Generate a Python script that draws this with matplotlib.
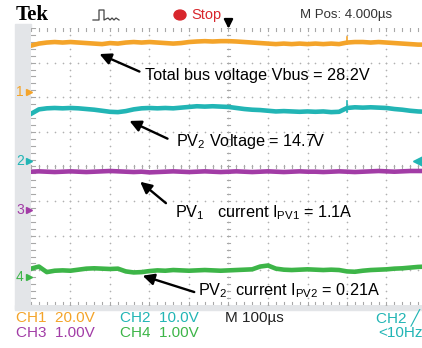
import matplotlib
matplotlib.use("Agg")
import matplotlib.pyplot as plt
from matplotlib.patches import Rectangle, Circle
from matplotlib.lines import Line2D
import numpy as np

plt.rcParams['font.family'] = ['Liberation Sans', 'DejaVu Sans']
plt.rcParams['mathtext.fontset'] = 'custom'
plt.rcParams['mathtext.rm'] = 'Liberation Sans'
plt.rcParams['mathtext.it'] = 'Liberation Sans:italic'

# time samples (us), 100 us/div
t = np.arange(0, 1001, 20)

# CH1 total bus voltage (V), 20 V/div
vbus = [26.6, 27.8, 28.4, 28.7, 28.4, 28.7, 28.4, 28.1, 27.8, 27.5,
        28.1, 27.8, 28.4, 28.7, 28.4, 28.7, 28.4, 28.1, 27.8, 28.1,
        28.7, 29.0, 29.2, 29.0, 29.2, 29.2, 29.0, 28.7, 28.4, 28.1,
        27.8, 27.5, 27.8, 27.5, 27.8, 27.5, 27.8, 27.5, 27.8, 27.5,
        28.4, 28.7, 28.7, 28.4, 28.7, 28.4, 28.1, 27.8, 27.5, 27.2, 27.2]
# CH2 PV2 voltage (V), 10 V/div
vpv2 = [13.6, 14.9, 15.2, 15.3, 15.2, 15.3, 15.2, 15.0, 14.8, 14.5,
        14.2, 14.1, 14.4, 14.9, 15.2, 15.3, 15.2, 15.3, 15.2, 15.4,
        15.6, 15.8, 15.7, 15.8, 15.7, 15.6, 15.3, 15.0, 14.8, 14.7,
        14.5, 14.3, 14.4, 14.3, 14.2, 14.3, 14.2, 14.3, 14.1, 14.2,
        15.3, 15.5, 15.4, 15.5, 15.4, 15.3, 15.0, 14.8, 14.5, 14.3, 14.2]
# CH3 PV1 current (A), 1 A/div
ipv1 = [1.10, 1.11, 1.10, 1.09, 1.10, 1.11, 1.10, 1.09, 1.10, 1.11,
        1.12, 1.11, 1.10, 1.09, 1.10, 1.08, 1.09, 1.10, 1.11, 1.10,
        1.09, 1.10, 1.11, 1.10, 1.09, 1.10, 1.11, 1.10, 1.09, 1.10,
        1.11, 1.10, 1.09, 1.10, 1.11, 1.10, 1.10, 1.09, 1.10, 1.11,
        1.10, 1.09, 1.10, 1.11, 1.12, 1.11, 1.10, 1.11, 1.12, 1.12, 1.12]
# CH4 PV2 current (A), 1 A/div
ipv2 = [0.24, 0.30, 0.14, 0.18, 0.19, 0.18, 0.21, 0.24, 0.25, 0.24,
        0.23, 0.24, 0.16, 0.13, 0.14, 0.17, 0.19, 0.18, 0.20, 0.19,
        0.18, 0.19, 0.20, 0.19, 0.18, 0.19, 0.20, 0.21, 0.22, 0.30,
        0.33, 0.24, 0.21, 0.20, 0.21, 0.22, 0.21, 0.20, 0.21, 0.20,
        0.16, 0.15, 0.18, 0.20, 0.21, 0.22, 0.24, 0.25, 0.27, 0.29, 0.30]
# glitch on CH1 / CH2 at ~800 us
glitch_t = 800
glitch_vbus = [27.5, 31.8]
glitch_vpv2 = [14.2, 17.4]

scales = [20.0, 10.0, 1.0, 1.0]
offsets = [6.16, 4.16, 2.75, 0.81]  # ground markers, divisions from bottom
colors = ['#f4a42a', '#22b5b5', '#a23ca6', '#3db548']
series = [vbus, vpv2, ipv1, ipv2]

W, H = 422, 348
fig = plt.figure(figsize=(W / 100, H / 100), dpi=100)
fig.patch.set_facecolor('white')

def fx(x):
    return x / W

def fy(y):
    return 1 - y / H

L, R, T, B = 31, 426, 28, 305
grey = '#e3e5e8'
fig.add_artist(Rectangle((fx(15), fy(B + 4)), fx(16), (B + 4 - 24) / H,
                         transform=fig.transFigure, color=grey, zorder=0))
fig.add_artist(Rectangle((fx(15), fy(B + 5)), 1, 5 / H,
                         transform=fig.transFigure, color=grey, zorder=0))

ax = fig.add_axes([fx(L), fy(B), (R - L) / W, (B - T) / H])
ax.set_xlim(0, 1000)
ax.set_ylim(0, 8)
ax.set_facecolor('white')
for s in ax.spines.values():
    s.set_visible(False)
ax.set_xticks([])
ax.set_yticks([])

# graticule: dotted lines, 5 dots per division
dot = dict(ls='none', marker='o', ms=1.2, color='#b0b0b0', mew=0)
ys = np.arange(0, 8.01, 0.2)
xs = np.arange(0, 1000.1, 20)
for k in range(1, 10):
    ax.plot(np.full_like(ys, k * 100), ys, **dot)
for k in range(1, 8):
    ax.plot(xs, np.full_like(xs, k), **dot)
# rulers on edges and center lines
tick = dict(color='#a8a8a8', lw=0.8)
for x in xs:
    ax.plot([x, x], [8, 7.9], **tick)
    ax.plot([x, x], [0, 0.1], **tick)
    ax.plot([x, x], [3.95, 4.05], **tick)
for y in ys:
    ax.plot([0, 10], [y, y], **tick)
    ax.plot([495, 505], [y, y], **tick)

# traces
for vals, sc, off, c in zip(series, scales, offsets, colors):
    ax.plot(t, off + np.array(vals) / sc, color=c, lw=3.3, solid_joinstyle='round', zorder=3)
ax.plot([glitch_t, glitch_t], offsets[0] + np.array(glitch_vbus) / scales[0], color=colors[0], lw=1.2, zorder=3)
ax.plot([glitch_t, glitch_t], offsets[1] + np.array(glitch_vpv2) / scales[1], color=colors[1], lw=1.2, zorder=3)

# annotations
arrow = dict(arrowstyle='-|>', color='black', lw=1.7, mutation_scale=17)
fs = 11.7
ax.annotate('', xy=(167, 7.28), xytext=(281, 6.71), arrowprops=arrow, zorder=5)
ax.text(289, 6.62, 'Total bus voltage Vbus = 28.2V', fontsize=fs, va='center', zorder=5)
ax.annotate('', xy=(243, 5.35), xytext=(352, 4.77), arrowprops=arrow, zorder=5)
ax.text(367, 4.71, 'PV$_2$ Voltage = 14.7V', fontsize=fs, va='center', zorder=5)
ax.annotate('', xy=(271, 3.61), xytext=(347, 2.89), arrowprops=arrow, zorder=5)
ax.text(365, 2.66, r'PV$_1$   current I$_{\mathrm{PV1}}$ = 1.1A', fontsize=fs, va='center', zorder=5)
ax.annotate('', xy=(276, 0.87), xytext=(420, 0.35), arrowprops=arrow, zorder=5)
ax.text(423, 0.40, r'PV$_2$  current I$_{\mathrm{PV2}}$ = 0.21A', fontsize=fs, va='center', zorder=5)

# trigger position arrow at top
ax.annotate('', xy=(500, 7.9), xytext=(500, 8.25), annotation_clip=False,
            arrowprops=dict(arrowstyle='-|>', color='black', lw=1.6, mutation_scale=13))

# channel ground markers
for i, (off, c) in enumerate(zip(offsets, colors)):
    yp = B - off * (B - T) / 8
    fig.text(fx(16), fy(yp), str(i + 1), color=c, fontsize=10, va='center', ha='left')
    ax.plot([-6], [off], marker='>', ms=4.5, color=c, clip_on=False)
# trigger level marker on right
ax.plot([1000 * (418 - L) / (R - L)], [offsets[1]], marker='<', ms=7, color=colors[1], clip_on=False, zorder=6)

# header
fig.text(fx(16), fy(15), 'Tek', family='Liberation Serif', weight='bold', fontsize=15, va='center')
fig.add_artist(Line2D([fx(93), fx(99), fx(99), fx(104), fx(104), fx(108), fx(110), fx(112), fx(114), fx(116), fx(119)],
                      [fy(20), fy(20), fy(10), fy(10), fy(20), fy(18), fy(20), fy(18), fy(20), fy(18), fy(20)],
                      transform=fig.transFigure, color='#444444', lw=0.9))
fig.add_artist(Circle((fx(180), fy(15)), 6 / W, transform=fig.transFigure, color='#d8262c'))
fig.text(fx(191), fy(15), 'Stop', color='#d8262c', fontsize=10.5, va='center')
fig.text(fx(300), fy(15), 'M Pos: 4.000\u00b5s', color='#333333', fontsize=9.5, va='center')

# footer
fb = 11
fig.text(fx(16), fy(318), 'CH1  20.0V', color=colors[0], fontsize=fb, va='center')
fig.text(fx(120), fy(318), 'CH2  10.0V', color=colors[1], fontsize=fb, va='center')
fig.text(fx(225), fy(318), 'M 100\u00b5s', color='#222222', fontsize=fb, va='center')
fig.text(fx(376), fy(318), 'CH2 \u2571', color=colors[1], fontsize=fb, va='center',
         family=['Liberation Sans', 'DejaVu Sans'])
fig.text(fx(16), fy(333), 'CH3  1.00V', color=colors[2], fontsize=fb, va='center')
fig.text(fx(120), fy(333), 'CH4  1.00V', color=colors[3], fontsize=fb, va='center')
fig.text(fx(378), fy(333), '<10Hz', color=colors[1], fontsize=fb, va='center')

fig.savefig('out.png', dpi=100)
